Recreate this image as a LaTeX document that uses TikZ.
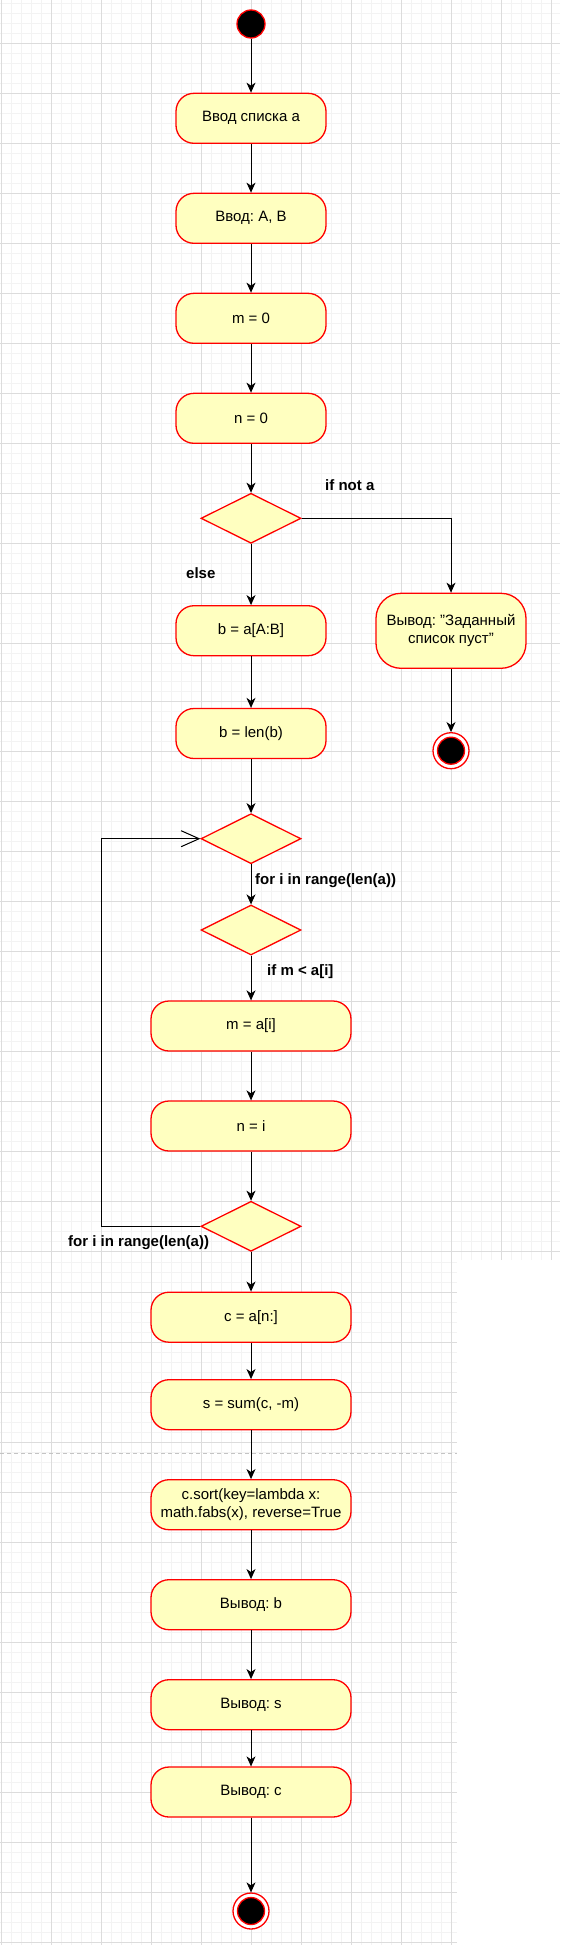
\documentclass[tikz,border=0pt]{standalone}
\usepackage{fontspec}
\setmainfont{Liberation Sans}
\usetikzlibrary{arrows.meta,shapes.geometric}
\frenchspacing

\definecolor{actfill}{HTML}{FFFFC0}
\definecolor{actline}{HTML}{FF0000}
\definecolor{gridmajor}{HTML}{DCDCDC}
\definecolor{gridminor}{HTML}{F3F3F3}
\definecolor{pagebreak}{HTML}{C4C4C4}

\tikzset{
  act/.style={draw=actline, fill=actfill, line width=1.3pt, rounded corners=18pt,
    minimum width=150pt, minimum height=50pt, inner sep=0pt, align=center,
    font=\fontsize{15}{17.7}\selectfont},
  wideact/.style={act, minimum width=200pt},
  tallact/.style={act, minimum height=75pt, rounded corners=25pt},
  dec/.style={diamond, draw=actline, fill=actfill, line width=1.3pt,
    minimum width=100pt, minimum height=50pt, inner sep=0pt},
  startnode/.style={circle, draw=actline, fill=black, line width=1.3pt,
    minimum size=28pt, inner sep=0pt},
  endouter/.style={circle, draw=actline, fill=white, line width=1.3pt,
    minimum size=36pt, inner sep=0pt},
  endinner/.style={circle, draw=actline, fill=black, line width=1.3pt,
    minimum size=27pt, inner sep=0pt},
  conn/.style={draw=black, line width=1pt, -{Stealth[length=10pt,width=9pt,inset=3pt]}},
  openconn/.style={draw=black, line width=1pt, -{Straight Barb[length=18pt,width=16pt,line width=1pt]}},
  lbl/.style={inner sep=0pt, anchor=west, font=\fontsize{15}{17.7}\selectfont\bfseries},
  gmin/.style={draw=gridminor, line width=0.8pt},
  gmaj/.style={draw=gridmajor, line width=1pt},
}

\begin{document}
\begin{tikzpicture}[x=1pt,y=-1pt]
\useasboundingbox (0,0) rectangle (560,1945);
\fill[white] (0,0) rectangle (560,1945);

% ---- background grid ----
% region A (top, full width)
\foreach \x in {1.7,11.7,...,560} \draw[gmin] (\x,0) -- (\x,1260);
\foreach \y in {3.3,13.3,...,663.3} \draw[gmin] (0,\y) -- (560,\y);
\foreach \y in {671.7,681.7,...,1251.7} \draw[gmin] (0,\y) -- (560,\y);
% region B (bottom, narrower)
\foreach \x in {1.7,11.7,...,452} \draw[gmin] (\x,1260) -- (\x,1945);
\foreach \y in {1262.3,1272.3,...,1945} \draw[gmin] (0,\y) -- (457,\y);
% majors
\foreach \x in {1.7,51.7,...,560} \draw[gmaj] (\x,0) -- (\x,1260);
\foreach \y in {43.3,93.3,...,643.3} \draw[gmaj] (0,\y) -- (560,\y);
\foreach \y in {701.7,751.7,...,1251.7} \draw[gmaj] (0,\y) -- (560,\y);
\foreach \x in {1.7,51.7,...,452} \draw[gmaj] (\x,1260) -- (\x,1945);
\foreach \y in {1292.3,1342.3,...,1945} \draw[gmaj] (0,\y) -- (457,\y);
\draw[pagebreak, line width=1pt, dash pattern=on 4pt off 3pt] (0,1453.3) -- (457,1453.3);

% ---- nodes ----
\node[startnode] (start) at (251,24) {};
\node[act] (b1) at (251,118.3) {Ввод списка а};
\node[act] (b2) at (251,218.3) {Ввод: A, B};
\node[act] (b3) at (251,318.3) {m = 0};
\node[act] (b4) at (251,418.3) {n = 0};
\node[dec] (d1) at (251,518.3) {};
\node[act] (b5) at (251,630.7) {b = a[A:B]};
\node[tallact] (rb) at (451,630.8) {Вывод: "Заданный\\список пуст"};
\node[endouter] (rend) at (451,750.7) {};
\node[endinner] (rendin) at (451,750.7) {};
\node[act] (b6) at (251,733.5) {b = len(b)};
\node[dec] (d2) at (251,838.7) {};
\node[dec] (d3) at (251,930) {};
\node[wideact] (b7) at (251,1026) {m = a[i]};
\node[wideact] (b8) at (251,1126) {n = i};
\node[dec] (d4) at (251,1226.3) {};
\node[wideact] (b9) at (251,1317.2) {c = a[n:]};
\node[wideact] (b10) at (251,1404.7) {s = sum(c, -m)};
\node[wideact] (b11) at (251,1504.7) {c.sort(key=lambda x:\\math.fabs(x), reverse=True};
\node[wideact] (b12) at (251,1604.7) {Вывод: b};
\node[wideact] (b13) at (251,1704.7) {Вывод: s};
\node[wideact] (b14) at (251,1792) {Вывод: c};
\node[endouter] (fend) at (251,1911) {};
\node[endinner] (fendin) at (251,1911) {};

% ---- labels ----
\node[lbl] (l1) at (325,485) {if not a};
\node[lbl] (l2) at (186,572.7) {else};
\node[lbl] (l3) at (255,881) {for i in range(len(a))};
\node[lbl] (l4) at (267,971.7) {if m < a[i]};
\node[lbl] (l5) at (68,1243) {for i in range(len(a))};

% ---- connectors ----
\draw[conn] (start) -- (b1);
\draw[conn] (b1) -- (b2);
\draw[conn] (b2) -- (b3);
\draw[conn] (b3) -- (b4);
\draw[conn] (b4) -- (d1);
\draw[conn] (d1.east) -| (rb.north);
\draw[conn] (rb) -- (rend);
\draw[conn] (d1) -- (b5);
\draw[conn] (b5) -- (b6);
\draw[conn] (b6) -- (d2);
\draw[conn] (d2) -- (d3);
\draw[conn] (d3) -- (b7);
\draw[conn] (b7) -- (b8);
\draw[conn] (b8) -- (d4);
\coordinate (lpb) at (101.4,1226.3);
\coordinate (lpt) at (101.4,838.7);
\draw[openconn] (d4.west) -- (lpb) -- (lpt) -- (d2.west);
\draw[conn] (d4) -- (b9);
\draw[conn] (b9) -- (b10);
\draw[conn] (b10) -- (b11);
\draw[conn] (b11) -- (b12);
\draw[conn] (b12) -- (b13);
\draw[conn] (b13) -- (b14);
\draw[conn] (b14) -- (fend);
\end{tikzpicture}
\end{document}
